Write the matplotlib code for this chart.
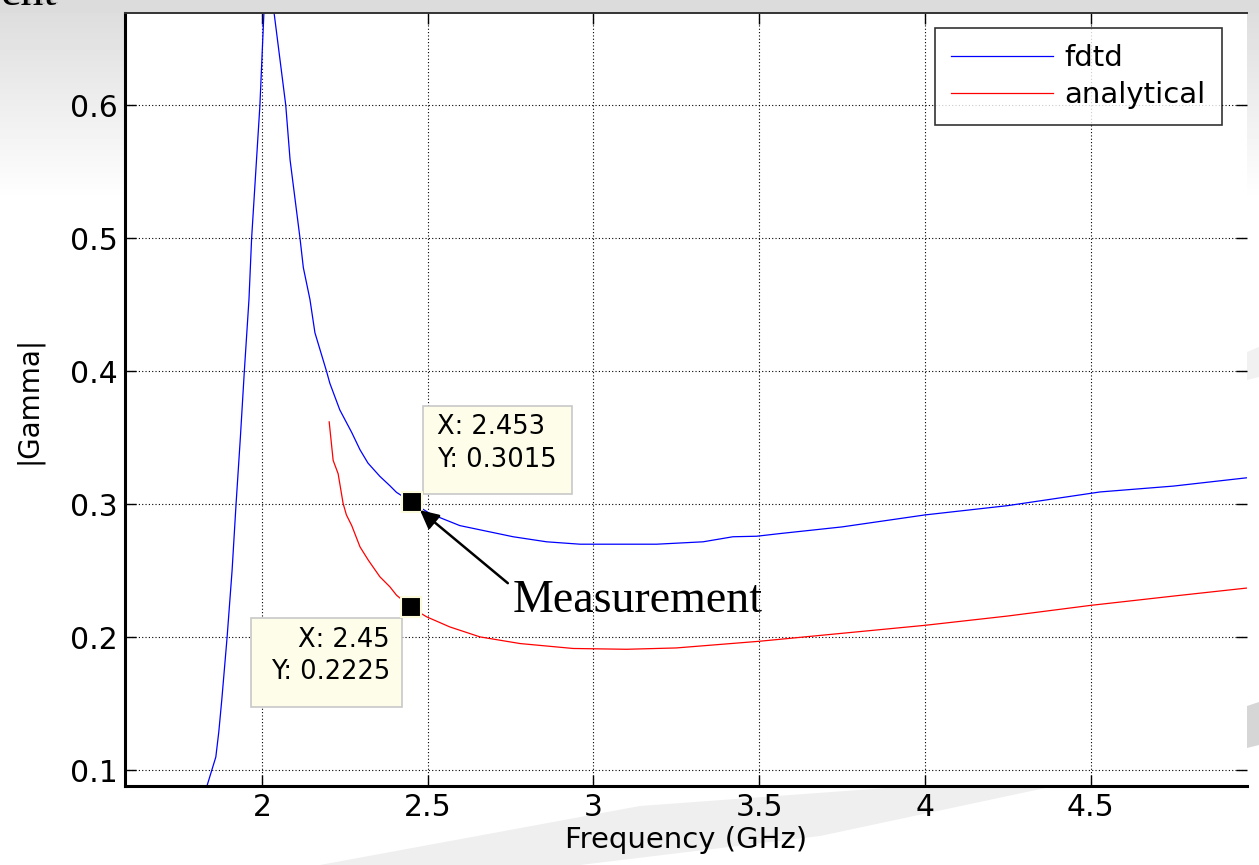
import numpy as np
import matplotlib
matplotlib.use("Agg")
import matplotlib.pyplot as plt
from matplotlib.patches import Rectangle, Polygon
from matplotlib.transforms import ScaledTranslation

# |Gamma| versus frequency, fdtd and analytical
fdtd_f = [1.834, 1.861, 1.870, 1.879, 1.895, 1.910, 1.922, 1.935, 1.947, 1.961,
          1.969, 1.994, 2.006, 2.014, 2.037, 2.072, 2.085, 2.115, 2.125, 2.145,
          2.160, 2.195, 2.205, 2.235, 2.271, 2.296, 2.320, 2.356, 2.386, 2.406,
          2.453, 2.507, 2.597, 2.758, 2.859, 2.960, 3.191, 3.331, 3.421, 3.493,
          3.563, 3.750, 4.000, 4.250, 4.529, 4.750, 4.970]
fdtd_g = [0.088, 0.110, 0.129, 0.153, 0.200, 0.250, 0.300, 0.350, 0.400, 0.454,
          0.500, 0.600, 0.669, 0.714, 0.669, 0.600, 0.559, 0.500, 0.478, 0.454,
          0.429, 0.400, 0.391, 0.371, 0.354, 0.341, 0.331, 0.321, 0.314, 0.309,
          0.3015, 0.293, 0.284, 0.2756, 0.2718, 0.270, 0.270, 0.2718, 0.2756, 0.276,
          0.278, 0.283, 0.292, 0.299, 0.3093, 0.3137, 0.3199]

ana_f = [2.203, 2.215, 2.230, 2.245, 2.255, 2.271, 2.296, 2.321, 2.356, 2.386,
         2.406, 2.450, 2.497, 2.567, 2.658, 2.779, 2.939, 3.100, 3.250, 3.500,
         3.750, 4.000, 4.250, 4.500, 4.750, 4.970]
ana_g = [0.362, 0.333, 0.323, 0.3007, 0.292, 0.284, 0.268, 0.258, 0.2455, 0.238,
         0.2317, 0.2225, 0.2154, 0.2078, 0.2003, 0.1953, 0.1916, 0.191, 0.192, 0.197,
         0.203, 0.209, 0.216, 0.224, 0.231, 0.237]

# data cursor points
tip_fdtd = (2.453, 0.3015)
tip_ana = (2.45, 0.2225)

xticks = [2, 2.5, 3, 3.5, 4, 4.5]
yticks = [0.1, 0.2, 0.3, 0.4, 0.5, 0.6]

W, H = 1259, 865
fig = plt.figure(figsize=(W / 100, H / 100), dpi=100)
fig.patch.set_facecolor("white")

# slide background behind the plot
bg = fig.add_axes([0, 0, 1, 1], zorder=-5)
bg.set_xlim(0, W)
bg.set_ylim(H, 0)
bg.axis("off")
rows = np.arange(H)
grad = np.repeat(np.clip(0.86 + 0.14 * rows / 200.0, 0, 1)[:, None], 2, axis=1)
bg.imshow(grad, cmap="gray", vmin=0, vmax=1, extent=(0, W, H, 0), aspect="auto")
bg.add_patch(Rectangle((0, 0), W, 13, color="#dcdcdc", lw=0))
bg.add_patch(Polygon([(320, 865), (640, 806), (900, 787), (1050, 787), (820, 836), (580, 865)],
                     closed=True, color="#efefef", lw=0))
bg.add_patch(Polygon([(1247, 352), (1259, 347), (1259, 377), (1247, 380)],
                     closed=True, color="#f1f1f1", lw=0))
bg.add_patch(Polygon([(1247, 706), (1259, 702), (1259, 745), (1247, 748)],
                     closed=True, color="#d6d6d6", lw=0))

# bottom of the slide title showing above the plot
fig.text(0.002, 1 - 4 / H, "ent", family="Liberation Serif", fontsize=33, color="#b8b8b8",
         va="baseline", ha="left")
fig.text(0, 1 - 5 / H, "ent", family="Liberation Serif", fontsize=33, color="black",
         va="baseline", ha="left")

ax = fig.add_axes([125 / W, 1 - 786 / H, (1247 - 125) / W, (786 - 13) / H])
ax.plot(fdtd_f, fdtd_g, color="#0000ff", lw=0.9, label="fdtd")
ax.plot(ana_f, ana_g, color="#ff0000", lw=0.9, label="analytical")

ax.set_xlim(1.587, 4.972)
ax.set_ylim(0.0882, 0.6694)
ax.set_xticks(xticks)
ax.set_xticklabels([f"{t:g}" for t in xticks])
ax.set_yticks(yticks)
ax.set_yticklabels([f"{t:g}" for t in yticks])
ax.tick_params(direction="in", length=8, width=1, top=True, right=True,
               labelsize=21.5, pad=5)
ax.grid(True, ls=(0, (1, 2)), lw=0.8, color="black")

for side in ("left", "bottom"):
    ax.spines[side].set_linewidth(2.2)
ax.spines["top"].set_linewidth(1.4)
ax.spines["top"].set_color("#333333")
ax.spines["right"].set_visible(False)

ax.set_xlabel("Frequency (GHz)", fontsize=21, labelpad=3)
ax.set_ylabel("|Gamma|", fontsize=20, labelpad=20)

leg = ax.legend(loc="upper right", bbox_to_anchor=(1222 / W, 1 - 28 / H),
                bbox_transform=fig.transFigure, fontsize=21, frameon=True,
                fancybox=False, borderaxespad=0, handlelength=3.5,
                handletextpad=0.4, labelspacing=0.3, borderpad=0.55)
leg.get_frame().set_edgecolor("black")
leg.get_frame().set_linewidth(1.2)

# data tips: marker, yellow box and X/Y readout placed in pixels from the point
def data_tip(pt, box, lines, ha):
    ax.plot(*pt, marker="s", color="black", ms=15, mec="#fbfbdc", mew=1.5,
            zorder=6, clip_on=False)
    trans = fig.dpi_scale_trans + ScaledTranslation(pt[0], pt[1], ax.transData)
    x0, y0, x1, y1 = box
    ax.add_patch(Rectangle((x0 / 100, y0 / 100), (x1 - x0) / 100, (y1 - y0) / 100,
                           transform=trans, facecolor="#fdfdea", edgecolor="#c8c8c8",
                           lw=1.2, zorder=5, clip_on=False))
    for (tx, ty, s) in lines:
        ax.text(tx / 100, ty / 100, s, transform=trans, fontsize=18.5, ha=ha,
                va="center", zorder=7)

data_tip(tip_fdtd, (10.7, 8.2, 160.3, 96.2),
         [(24.7, 75.0, f"X: {tip_fdtd[0]:g}"), (24.7, 42.5, f"Y: {tip_fdtd[1]:g}")], "left")
data_tip(tip_ana, (-160.0, -100.1, -9.3, -11.1),
         [(-21, -32.5, f"X: {tip_ana[0]:g}"), (-21, -65.0, f"Y: {tip_ana[1]:g}")], "right")

ax.annotate("", xy=(2.477, 0.2956), xytext=(2.742, 0.2407),
            arrowprops=dict(arrowstyle="-|>", color="black", lw=1.8,
                            mutation_scale=28, shrinkA=0, shrinkB=0), zorder=8)
ax.text(2.757, 0.2191, "Measurement", family="Liberation Serif", fontsize=33,
        va="baseline", ha="left", zorder=8)

fig.savefig("out.png", dpi=100)
